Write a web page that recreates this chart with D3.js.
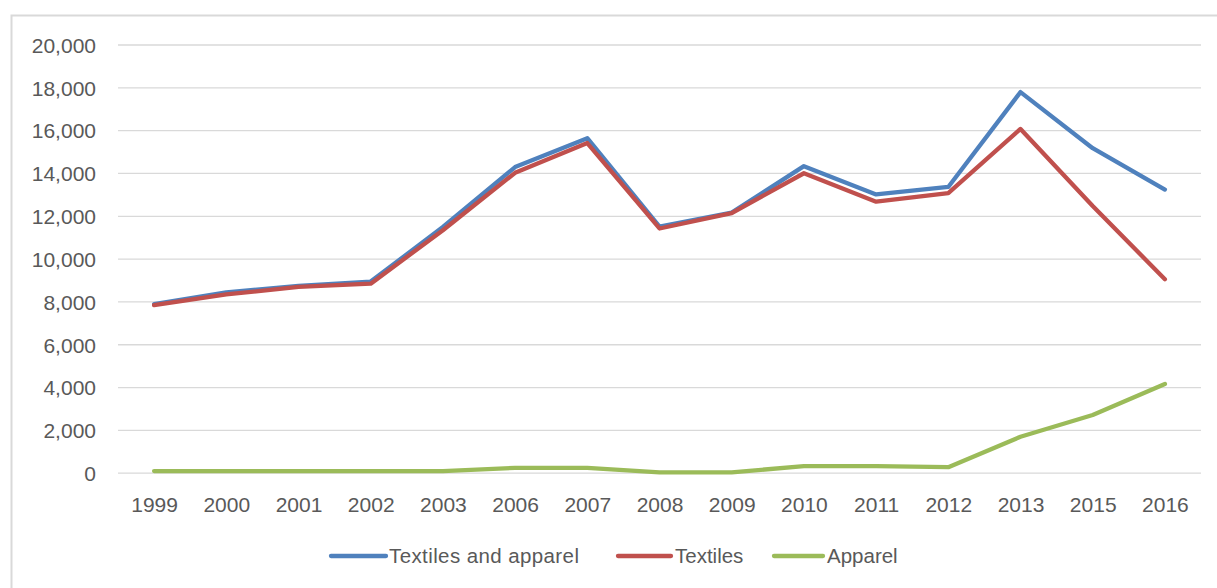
<!DOCTYPE html>
<html>
<head>
<meta charset="utf-8">
<script src="https://cdn.jsdelivr.net/npm/d3@7"></script>
<style>
  html, body { margin: 0; padding: 0; background: #fff; }
  svg { display: block; }
  text { font-family: "Liberation Sans", Arial, sans-serif; fill: #595959; }
</style>
</head>
<body>
<svg id="chart" width="1217" height="588"></svg>
<script>
const years = ["1999","2000","2001","2002","2003","2006","2007","2008","2009","2010","2011","2012","2013","2015","2016"];
const textilesAndApparel = [7900, 8450, 8750, 8950, 11500, 14300, 15650, 11520, 12170, 14340, 13020, 13370, 17800, 15180, 13250];
const textiles = [7850, 8350, 8700, 8850, 11350, 14030, 15420, 11430, 12150, 14010, 12680, 13080, 16080, 12480, 9060];
const apparel = [100, 100, 100, 100, 100, 250, 250, 40, 40, 330, 330, 280, 1700, 2720, 4170];
const yTicks = [0, 2000, 4000, 6000, 8000, 10000, 12000, 14000, 16000, 18000, 20000];
const seriesNames = ["Textiles and apparel", "Textiles", "Apparel"];
const seriesColors = ["#4F81BD", "#C0504D", "#9BBB59"];

const svg = d3.select("#chart");
const W = 1217, H = 588;

// outer chart border (left/top visible)
svg.append("path")
  .attr("d", `M11.5,${H} L11.5,15.5 L${W},15.5`)
  .attr("fill", "none").attr("stroke", "#d9d9d9").attr("stroke-width", 2);

const x = d3.scalePoint().domain(years).range([118, 1201]).padding(0.5);
const y = d3.scaleLinear().domain([0, 20000]).range([473.2, 45]);

// gridlines
svg.append("g").selectAll("line").data(yTicks).join("line")
  .attr("x1", 118).attr("x2", 1201)
  .attr("y1", d => y(d)).attr("y2", d => y(d))
  .attr("stroke", "#d9d9d9").attr("stroke-width", 1.3);

// y axis labels
const yAxis = d3.axisLeft(y).tickValues(yTicks).tickFormat(d3.format(",")).tickSize(0).tickPadding(0);
const gy = svg.append("g").attr("transform", "translate(96,0)").call(yAxis);
gy.select(".domain").remove();
gy.selectAll("text").attr("font-size", 21).attr("fill", "#595959")
  .style("font-family", "'Liberation Sans', Arial, sans-serif").attr("dy", "0.35em");

// x axis labels
const xAxis = d3.axisBottom(x).tickSize(0).tickPadding(0);
const gx = svg.append("g").attr("transform", "translate(0,497)").call(xAxis);
gx.select(".domain").remove();
gx.selectAll("text").attr("font-size", 21).attr("fill", "#595959")
  .style("font-family", "'Liberation Sans', Arial, sans-serif").attr("dy", "0.71em");

// lines
const allSeries = [textilesAndApparel, textiles, apparel];
const line = d3.line().x((d, i) => x(years[i])).y(d => y(d));
allSeries.forEach((s, k) => {
  svg.append("path").datum(s)
    .attr("d", line)
    .attr("fill", "none")
    .attr("stroke", seriesColors[k])
    .attr("stroke-width", 4.3)
    .attr("stroke-linejoin", "round")
    .attr("stroke-linecap", "round");
});

// legend
const legendItems = [
  { x0: 331, x1: 386, tx: 389 },
  { x0: 618, x1: 671, tx: 675 },
  { x0: 774, x1: 823, tx: 827 }
];
const lg = svg.append("g");
legendItems.forEach((it, k) => {
  lg.append("line").attr("x1", it.x0).attr("x2", it.x1).attr("y1", 556).attr("y2", 556)
    .attr("stroke", seriesColors[k]).attr("stroke-width", 4.3).attr("stroke-linecap", "round");
  lg.append("text").attr("x", it.tx).attr("y", 556).attr("dy", "0.35em")
    .attr("font-size", 20.5)
    .style("letter-spacing", k === 0 ? "0.4px" : "0px")
    .text(seriesNames[k]);
});
</script>
</body>
</html>
